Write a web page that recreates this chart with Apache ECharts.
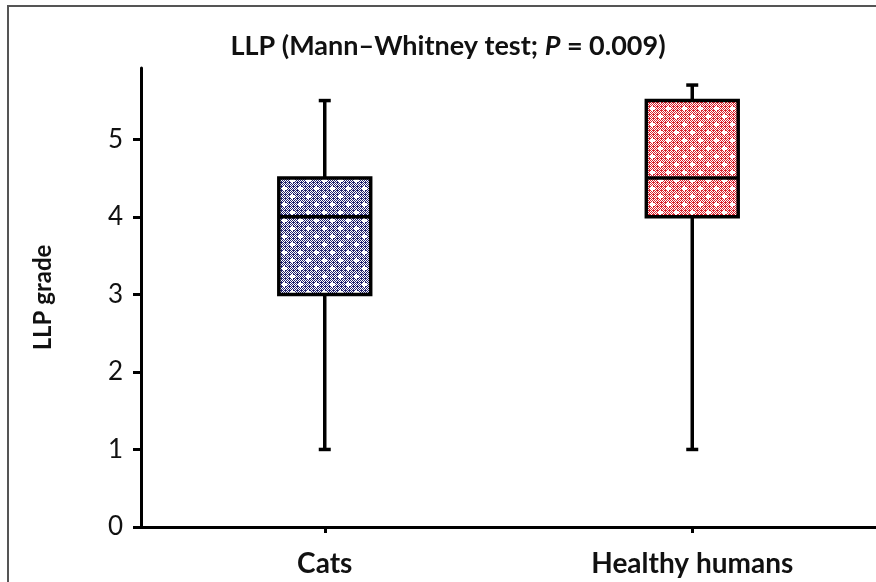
<!DOCTYPE html>
<html>
<head>
<meta charset="utf-8">
<script src="https://cdn.jsdelivr.net/npm/echarts@6/dist/echarts.min.js"></script>
<style>
  html, body { margin: 0; padding: 0; background: #fff; overflow: hidden; }
  #chart { width: 876px; height: 582px; }
</style>
</head>
<body>
<div id="chart"></div>
<script>
// Groups and their five-number summaries (LLP grade)
const categories = ['Cats', 'Healthy humans'];
const whiskerLow = [1, 1];
const quartile1 = [3, 4];
const medians = [4, 4.5];
const quartile3 = [4.5, 5.5];
const whiskerHigh = [5.5, 5.7];
const yTicks = [0, 1, 2, 3, 4, 5];

// Dotted hatch fill: fine checkerboard with a staggered lattice of white crosses
function makePattern(ink) {
  const c = document.createElement('canvas');
  c.width = 16; c.height = 16;
  const g = c.getContext('2d');
  g.fillStyle = '#ffffff';
  g.fillRect(0, 0, c.width, c.height);
  g.fillStyle = ink;
  for (let y = 0; y < c.height; y++) {
    for (let x = 0; x < c.width; x++) {
      if ((x + y) % 2 === 0 || (x % 4 === 1 && y % 4 === 2)) g.fillRect(x, y, 1, 1);
    }
  }
  g.fillStyle = '#ffffff';
  const crosses = [[4, 4], [12, 12]];
  crosses.forEach(([cx, cy]) => {
    g.fillRect(cx - 2, cy, 5, 1);
    g.fillRect(cx, cy - 2, 1, 5);
    g.fillRect(cx - 1, cy - 1, 3, 3);
  });
  return c;
}
const fills = [makePattern('#23236f'), makePattern('#d9222d')];

const boxData = categories.map((_, i) => [i, whiskerLow[i], quartile1[i], medians[i], quartile3[i], whiskerHigh[i]]);

const chart = echarts.init(document.getElementById('chart'), null, { renderer: 'canvas', width: 876, height: 582 });

const baseFont = 'Lato, "Open Sans", sans-serif';

chart.setOption({
  animation: false,
  backgroundColor: '#ffffff',
  title: {
    text: '{b|LLP (Mann–Whitney test; }{i|P}{b| = 0.009)}',
    left: 443,
    textAlign: 'center',
    top: 28,
    textStyle: {
      rich: {
        b: { fontFamily: baseFont, fontSize: 27, fontWeight: 'bold', color: '#111' },
        i: { fontFamily: baseFont, fontSize: 27, fontWeight: 'bold', fontStyle: 'italic', color: '#111' }
      }
    }
  },
  graphic: [{
    // outer frame: left and top edges (the rest runs past the canvas)
    type: 'polyline',
    shape: { points: [[8, 640], [8, 6], [940, 6]] },
    style: { fill: 'none', stroke: '#555', lineWidth: 2 },
    silent: true,
    z: 10
  }],
  grid: { left: 141, top: 68, width: 746, height: 459, containLabel: false },
  xAxis: {
    type: 'category',
    data: categories,
    boundaryGap: true,
    axisLine: { lineStyle: { color: '#000', width: 3 } },
    axisTick: { show: true, alignWithLabel: true, length: 6, lineStyle: { color: '#000', width: 3 } },
    axisLabel: { margin: 23, fontFamily: baseFont, fontSize: 28, fontWeight: 'bold', color: '#111' },
    splitLine: { show: false }
  },
  yAxis: {
    type: 'value',
    min: 0,
    max: 5.92,
    name: 'LLP grade',
    nameLocation: 'middle',
    nameGap: 86,
    nameRotate: 90,
    nameTextStyle: { fontFamily: baseFont, fontSize: 24, fontWeight: 'bold', color: '#111' },
    axisLine: { show: true, lineStyle: { color: '#000', width: 3 } },
    axisTick: { show: true, length: 8, customValues: yTicks, lineStyle: { color: '#000', width: 3 } },
    axisLabel: { margin: 18, customValues: yTicks, fontFamily: baseFont, fontSize: 26, color: '#111' },
    splitLine: { show: false }
  },
  series: [{
    type: 'custom',
    data: boxData,
    encode: { x: 0, y: [1, 2, 3, 4, 5] },
    renderItem: function (params, api) {
      const idx = api.value(0);
      const pLow = api.coord([idx, api.value(1)]);
      const pQ1 = api.coord([idx, api.value(2)]);
      const pMed = api.coord([idx, api.value(3)]);
      const pQ3 = api.coord([idx, api.value(4)]);
      const pHigh = api.coord([idx, api.value(5)]);
      const band = api.size([1, 0])[0];
      const halfBox = band * 0.125;
      const halfCap = 6;
      const cx = pQ1[0];
      const line = { stroke: '#000', lineWidth: 3.5 };
      return {
        type: 'group',
        children: [
          { type: 'line', shape: { x1: cx, y1: pLow[1], x2: cx, y2: pQ1[1] }, style: line },
          { type: 'line', shape: { x1: cx, y1: pQ3[1], x2: cx, y2: pHigh[1] }, style: line },
          { type: 'line', shape: { x1: cx - halfCap, y1: pLow[1], x2: cx + halfCap, y2: pLow[1] }, style: line },
          { type: 'line', shape: { x1: cx - halfCap, y1: pHigh[1], x2: cx + halfCap, y2: pHigh[1] }, style: line },
          {
            type: 'rect',
            shape: { x: cx - halfBox, y: pQ3[1], width: halfBox * 2, height: pQ1[1] - pQ3[1] },
            style: { fill: { image: fills[idx], repeat: 'repeat' }, stroke: '#000', lineWidth: 3.5 }
          },
          { type: 'line', shape: { x1: cx - halfBox, y1: pMed[1], x2: cx + halfBox, y2: pMed[1] }, style: line }
        ]
      };
    }
  }]
});
</script>
</body>
</html>
